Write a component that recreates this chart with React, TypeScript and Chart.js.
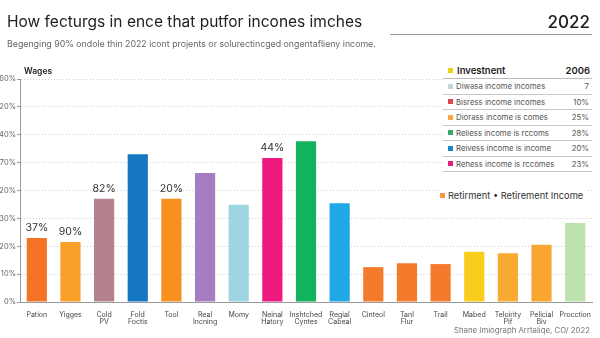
import React, { useEffect, useRef } from "react";
import { Chart, registerables } from "chart.js";
Chart.register(...registerables);

const categories: (string | string[])[] = [
  "Pation", "Yigges", ["Cold", "PV"], ["Fold", "Foctis"], "Tool", ["Real", "Incning"], "Momy",
  ["Neinal", "Hatory"], ["Inshtched", "Cyntes"], ["Regial", "Cabeal"], "Cinteol", ["Tanl", "Flur"],
  "Trail", "Mabed", ["Teloirity", "Pif"], ["Pelicial", "Biv"], "Procction",
];
const values = [23, 21.5, 37, 53, 37, 46.3, 34.9, 51.7, 57.7, 35.4, 12.5, 13.9, 13.6, 18, 17.5, 20.5, 28.3];
const barColors = [
  "#f47326", "#f9a02a", "#b3828e", "#1577c2", "#f8901f", "#a57dc0", "#9ed5e1", "#ef1a7d", "#13b25d",
  "#1fa8e6", "#f47a2c", "#f47a2c", "#f47a2c", "#f9cd1c", "#f9aa32", "#f9a631", "#bde2ae",
];
const valueLabels: (string | null)[] = [
  "37%", "90%", "82%", null, "20%", null, null, "44%", null, null, null, null, null, null, null, null, null,
];
const yTickLabels = ["0%", "10%", "20%", "30%", "20%", "70%", "40%", "20%", "60%"];

const legendHeader = "Investnent";
const legendHeaderValue = "2006";
const legendHeaderColor = "#e8d21a";
const legendNames = [
  "Diwasa income incomes", "Bisress income incomes", "Diorass income is comes",
  "Reliess income is rccoms", "Reivess income is income", "Rehess income is rccomes",
];
const legendValues = ["7", "10%", "25%", "28%", "20%", "23%"];
const legendColors = ["#c5d3da", "#e0474c", "#f5a74a", "#3aa86b", "#1a84c2", "#e0207a"];

const FONT = "Inter, 'Noto Sans', sans-serif";

const valueLabelPlugin = {
  id: "valueLabels",
  afterDatasetsDraw(chart: any) {
    const meta = chart.getDatasetMeta(0);
    const ctx = chart.ctx;
    ctx.save();
    ctx.font = `10.5px ${FONT}`;
    ctx.fillStyle = "#333";
    ctx.textAlign = "center";
    ctx.textBaseline = "bottom";
    meta.data.forEach((bar: any, i: number) => {
      const t = valueLabels[i];
      if (t) ctx.fillText(t, bar.x, bar.y - 5);
    });
    ctx.restore();
  },
};

export default function App() {
  const ref = useRef<HTMLCanvasElement>(null);
  useEffect(() => {
    document.body.style.margin = "0";
    const chart = new Chart(ref.current!, {
      type: "bar",
      data: {
        labels: categories,
        datasets: [{ data: values, backgroundColor: barColors, barPercentage: 0.6, categoryPercentage: 1 }],
      },
      options: {
        responsive: false,
        animation: false,
        layout: { padding: { top: 79, left: 0, right: 8, bottom: 0 } },
        plugins: { legend: { display: false }, tooltip: { enabled: false } },
        scales: {
          x: {
            grid: { display: false },
            border: { display: true, color: "#9a9a9a" },
            ticks: { font: { family: FONT, size: 7, lineHeight: 1.0 }, color: "#444", padding: 1, maxRotation: 0, autoSkip: false },
            afterFit: (s: any) => { s.height = 36; s.paddingLeft = 0; s.paddingRight = 0; },
          },
          y: {
            min: 0,
            max: 80,
            grid: { color: "#cfcfcf", tickLength: 3, tickColor: "#9a9a9a", lineWidth: 1 } as any,
            border: { display: true, color: "#9a9a9a", dash: [1, 2] } as any,
            ticks: {
              stepSize: 10,
              font: { family: FONT, size: 7.5 },
              color: "#666",
              padding: 1,
              callback: (_v: any, i: number) => yTickLabels[i],
            },
            afterFit: (s: any) => { s.width = 20; },
          },
        },
      },
      plugins: [valueLabelPlugin],
    });
    return () => chart.destroy();
  }, []);

  const abs = (o: React.CSSProperties): React.CSSProperties => ({ position: "absolute", whiteSpace: "nowrap", ...o });

  return (
    <div style={{ position: "absolute", left: 0, top: 0, width: 600, height: 338, background: "#fff", fontFamily: FONT, overflow: "hidden" }}>
      <canvas ref={ref} width={600} height={338} style={{ position: "absolute", left: 0, top: 0 }} />
      <div style={abs({ left: 7, top: 13, fontSize: 15.5, lineHeight: "18px", color: "#222" })}>
        How fecturgs in ence that putfor incones imches
      </div>
      <div style={abs({ left: 7, top: 38, fontSize: 8.8, lineHeight: "11px", color: "#666" })}>
        Begenging 90% ondole thin 2022 icont projents or solurectincged ongentaflieny income.
      </div>
      <div style={abs({ right: 10, top: 12, fontSize: 17, lineHeight: "20px", color: "#222", fontWeight: 500 })}>2022</div>
      <div style={abs({ left: 390, top: 34, width: 202, height: 1, background: "#999" })} />
      <div style={abs({ left: 24, top: 66, fontSize: 8.5, lineHeight: "11px", color: "#222", fontWeight: 600 })}>Wages</div>

      <div style={abs({ left: 443, top: 62, width: 149, height: 114, background: "#fff" })}>
        <div style={{ display: "flex", alignItems: "center", height: 16, borderBottom: "1px solid #bbb", fontWeight: 600, fontSize: 9.5, color: "#222" }}>
          <span style={{ width: 5, height: 5, background: legendHeaderColor, margin: "0 4px 0 5px" }} />
          <span style={{ flex: 1 }}>{legendHeader}</span>
          <span style={{ marginRight: 2 }}>{legendHeaderValue}</span>
        </div>
        {legendNames.map((n, i) => (
          <div key={i} style={{ display: "flex", alignItems: "center", height: 14.5, borderBottom: "1px solid #c8c8c8", fontSize: 7.8, color: "#555" }}>
            <span style={{ width: 5, height: 5, background: legendColors[i], margin: "0 3px 0 5px" }} />
            <span style={{ flex: 1 }}>{n}</span>
            <span style={{ marginRight: 3 }}>{legendValues[i]}</span>
          </div>
        ))}
      </div>

      <div style={abs({ left: 440, top: 189, fontSize: 9.3, lineHeight: "13px", color: "#333", background: "#fff", display: "flex", alignItems: "center", paddingRight: 4 })}>
        <span style={{ width: 5, height: 5, background: "#f39a3a", marginRight: 3, display: "inline-block" }} />
        Retirment • Retirement Income
      </div>
      <div style={abs({ right: 10, top: 325, fontSize: 7.8, lineHeight: "10px", color: "#777" })}>
        Shane Imiograph Arrtaliqe, CO/ 2022
      </div>
    </div>
  );
}
